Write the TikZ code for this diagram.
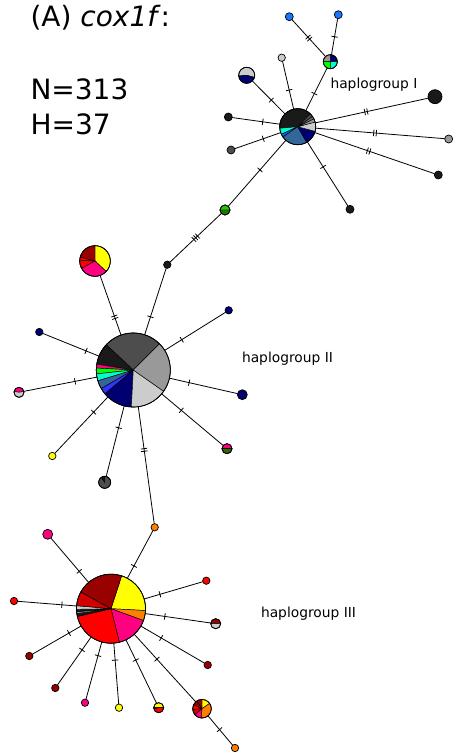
\documentclass[tikz,border=0pt]{standalone}
\usepackage{fontspec}
\setmainfont{DejaVu Sans}
\usetikzlibrary{decorations.markings}

% haplotype colours
\definecolor{hnavy}{RGB}{0,0,112}
\definecolor{hsteel}{RGB}{51,102,153}
\definecolor{hblue}{RGB}{51,51,255}
\definecolor{hblueI}{RGB}{0,102,255}
\definecolor{htopblue}{RGB}{26,117,255}
\definecolor{hcyan}{RGB}{0,255,204}
\definecolor{hgreen}{RGB}{0,255,0}
\definecolor{hgrnA}{RGB}{40,200,0}
\definecolor{hgrnB}{RGB}{30,120,0}
\definecolor{hdkgreen}{RGB}{51,102,0}
\definecolor{hmag}{RGB}{255,0,128}
\definecolor{hred}{RGB}{255,0,0}
\definecolor{hmred}{RGB}{210,0,0}
\definecolor{hdred}{RGB}{153,0,0}
\definecolor{hyel}{RGB}{255,255,0}
\definecolor{horange}{RGB}{255,128,0}
\definecolor{hblk}{RGB}{26,26,26}
\definecolor{hdg}{RGB}{77,77,77}
\definecolor{hmg}{RGB}{110,110,110}
\definecolor{hg}{RGB}{153,153,153}
\definecolor{hlg}{RGB}{204,204,204}

\tikzset{
  hap/.style={circle, draw=black, line width=0.7pt, inner sep=0pt, outer sep=0pt},
  link/.style={line width=0.8pt, black},
  tickmark/.style={line width=0.8pt},
  hashone/.style={postaction={decorate, decoration={markings,
      mark=at position #1 with {\draw[tickmark] (0pt,-3.2pt) -- (0pt,3.2pt);}}}},
  hashtwo/.style={postaction={decorate, decoration={markings,
      mark=at position #1 with {\draw[tickmark] (-1.3pt,-3.2pt) -- (-1.3pt,3.2pt)
                                  (1.3pt,-3.2pt) -- (1.3pt,3.2pt);}}}},
  hashthree/.style={postaction={decorate, decoration={markings,
      mark=at position #1 with {\draw[tickmark] (-2.5pt,-3.2pt) -- (-2.5pt,3.2pt)
                                  (0pt,-3.2pt) -- (0pt,3.2pt)
                                  (2.5pt,-3.2pt) -- (2.5pt,3.2pt);}}}},
  grouplabel/.style={anchor=base west, font=\fontsize{13.8}{16}\selectfont},
  biglabel/.style={anchor=base west, font=\fontsize{28}{33}\selectfont}
}

% one haplotype circle: name, x, y, radius, fill
\newcommand{\hapnode}[5]{\node[hap, fill=#5, minimum size={2*#4pt}] (#1) at (#2,#3) {};}
% one slice of a pie: centre node, radius, start angle, end angle, fill
\newcommand{\wedgepart}[5]{\filldraw[fill=#5, draw=black, line width=0.45pt]
  (#1.center) -- ++(#3:#2pt) arc[start angle=#3, end angle=#4, radius=#2pt] -- cycle;}
% outline of a pie
\newcommand{\pierim}[2]{\draw[line width=0.7pt] (#1.center) circle[radius=#2pt];}

\begin{document}
\begin{tikzpicture}[x=1pt, y=-1pt]
\useasboundingbox (0,0) rectangle (452,754);

% ---------- labels ----------
\node[biglabel] (title) at (27,27) {(A) \textit{cox1f}:};
\node[biglabel] (nlab) at (27,100) {N=313};
\node[biglabel] (hlab) at (27,135) {H=37};
\node[grouplabel] (gI) at (327,88.5) {haplogroup I};
\node[grouplabel] (gII) at (238.5,362) {haplogroup II};
\node[grouplabel] (gIII) at (257.5,617) {haplogroup III};

% ---------- haplogroup I ----------
\hapnode{cI}{297.7}{126.7}{18}{white}
\hapnode{blueTL}{289.3}{16.7}{4}{htopblue}
\hapnode{blueTR}{338.3}{14.7}{4}{htopblue}
\hapnode{pieQ}{330.3}{61.7}{7}{white}
\hapnode{lgS}{281.7}{57.7}{3.7}{hlg}
\hapnode{lgN}{246.7}{75.3}{8}{white}
\hapnode{blackL}{228.3}{117}{4}{hblk}
\hapnode{dgL}{231}{150}{4}{hdg}
\hapnode{greenN}{225}{210}{5}{white}
\hapnode{blackB}{350}{209.3}{4}{hblk}
\hapnode{blackRB}{438.3}{175}{4}{hblk}
\hapnode{grayR}{448.7}{139}{4}{hg}
\hapnode{bigBlack}{435}{96.7}{7}{hblk}

% ---------- haplogroup II ----------
\hapnode{cII}{133.3}{370}{37}{white}
\hapnode{pieTop}{95}{261}{15.3}{white}
\hapnode{blackTop}{167.3}{264.7}{3.7}{hblk}
\hapnode{navyTR}{228.7}{310.3}{3.7}{hnavy}
\hapnode{navyL}{39.3}{332}{3.7}{hnavy}
\hapnode{mgL}{19}{392.3}{5}{white}
\hapnode{navyR}{242.3}{394.7}{5}{hnavy}
\hapnode{mgDG}{227}{448.7}{5}{white}
\hapnode{yellowL}{52.3}{456}{3.7}{hyel}
\hapnode{dgPie}{104.7}{482.3}{6}{white}

% ---------- haplogroup III ----------
\hapnode{orangeTop}{154.7}{527.3}{3.7}{horange}
\hapnode{cIII}{111}{608.7}{34.5}{white}
\hapnode{mgTL}{47.7}{534.3}{5}{hmag}
\hapnode{redRT}{206.3}{580.7}{3.7}{hred}
\hapnode{redL}{14}{601}{3.7}{hred}
\hapnode{dlgR}{215.7}{623.7}{5}{white}
\hapnode{drR}{207.7}{665}{3.7}{hdred}
\hapnode{drL}{29.3}{656}{3.7}{hdred}
\hapnode{drLL}{55.3}{688}{3.7}{hdred}
\hapnode{mgB}{85}{702.7}{3.7}{hmag}
\hapnode{yellowB}{119}{707.7}{3.7}{hyel}
\hapnode{yrB}{158.7}{707.7}{5}{white}
\hapnode{multi}{202}{708.7}{9.3}{white}
\hapnode{orangeB}{235}{748}{3.7}{horange}

% ---------- connectors ----------
\draw[link, hashtwo=0.5] (pieQ) -- (blueTL);
\draw[link, hashone=0.5] (pieQ) -- (blueTR);
\draw[link, hashone=0.4] (cI) -- (pieQ);
\draw[link, hashone=0.4] (cI) -- (lgS);
\draw[link, hashone=0.42] (cI) -- (lgN);
\draw[link, hashone=0.36] (cI) -- (blackL);
\draw[link, hashone=0.38] (cI) -- (dgL);
\draw[link, hashone=0.45] (cI) -- (greenN);
\draw[link, hashone=0.39] (cI) -- (blackB);
\draw[link, hashtwo=0.45] (cI) -- (blackRB);
\draw[link, hashtwo=0.46] (cI) -- (grayR);
\draw[link, hashtwo=0.45] (cI) -- (bigBlack);

\draw[link, hashthree=0.5] (greenN) -- (blackTop);

\draw[link, hashtwo=0.3] (cII) -- (pieTop);
\draw[link, hashone=0.27] (cII) -- (blackTop);
\draw[link, hashone=0.28] (cII) -- (navyTR);
\draw[link, hashone=0.23] (cII) -- (navyL);
\draw[link, hashone=0.3] (cII) -- (mgL);
\draw[link, hashone=0.29] (cII) -- (navyR);
\draw[link, hashone=0.32] (cII) -- (mgDG);
\draw[link, hashone=0.27] (cII) -- (yellowL);
\draw[link, hashone=0.31] (cII) -- (dgPie);
\draw[link, hashtwo=0.37] (cII) -- (orangeTop);

\draw[link, hashone=0.26] (cIII) -- (orangeTop);
\draw[link, hashone=0.25] (cIII) -- (mgTL);
\draw[link, hashone=0.27] (cIII) -- (redRT);
\draw[link, hashone=0.25] (cIII) -- (redL);
\draw[link, hashone=0.3] (cIII) -- (dlgR);
\draw[link, hashone=0.32] (cIII) -- (drR);
\draw[link, hashone=0.25] (cIII) -- (drL);
\draw[link, hashone=0.27] (cIII) -- (drLL);
\draw[link, hashone=0.24] (cIII) -- (mgB);
\draw[link, hashone=0.28] (cIII) -- (yellowB);
\draw[link, hashone=0.32] (cIII) -- (yrB);
\draw[link, hashone=0.37] (cIII) -- (multi);
\draw[link, hashone=0.47] (multi) -- (orangeB);

% ---------- pies, haplogroup I ----------
\wedgepart{cI}{18}{45}{185}{hblk}
\wedgepart{cI}{18}{185}{205}{hcyan}
\wedgepart{cI}{18}{205}{215}{hblueI}
\wedgepart{cI}{18}{215}{300}{hsteel}
\wedgepart{cI}{18}{300}{345}{hnavy}
\wedgepart{cI}{18}{345}{375}{hlg}
\wedgepart{cI}{18}{375}{386}{hg}
\wedgepart{cI}{18}{386}{395}{hmg}
\wedgepart{cI}{18}{395}{405}{hdg}
\pierim{cI}{18}

\wedgepart{pieQ}{7}{0}{90}{hnavy}
\wedgepart{pieQ}{7}{90}{180}{hg}
\wedgepart{pieQ}{7}{180}{270}{hgreen}
\wedgepart{pieQ}{7}{270}{360}{hcyan}
\pierim{pieQ}{7}

\wedgepart{lgN}{8}{-15}{185}{hlg}
\wedgepart{lgN}{8}{185}{345}{hnavy}
\pierim{lgN}{8}

\wedgepart{greenN}{5}{0}{180}{hgrnA}
\wedgepart{greenN}{5}{180}{360}{hgrnB}
\pierim{greenN}{5}

% ---------- pies, haplogroup II ----------
\wedgepart{cII}{37}{45}{137}{hdg}
\wedgepart{cII}{37}{137}{171}{hblk}
\wedgepart{cII}{37}{171}{177}{hmag}
\wedgepart{cII}{37}{177}{186}{hgreen}
\wedgepart{cII}{37}{186}{197}{hcyan}
\wedgepart{cII}{37}{197}{210}{hsteel}
\wedgepart{cII}{37}{210}{220}{hblue}
\wedgepart{cII}{37}{220}{267}{hnavy}
\wedgepart{cII}{37}{267}{325}{hlg}
\wedgepart{cII}{37}{325}{405}{hg}
\pierim{cII}{37}

\wedgepart{pieTop}{15.3}{-43}{90}{hyel}
\wedgepart{pieTop}{15.3}{90}{166}{hdred}
\wedgepart{pieTop}{15.3}{166}{178}{hred}
\wedgepart{pieTop}{15.3}{178}{209}{hred}
\wedgepart{pieTop}{15.3}{209}{317}{hmag}
\pierim{pieTop}{15.3}

\wedgepart{mgL}{5}{10}{170}{hmag}
\wedgepart{mgL}{5}{170}{370}{hlg}
\pierim{mgL}{5}

\wedgepart{mgDG}{5}{0}{180}{hmag}
\wedgepart{mgDG}{5}{180}{360}{hdkgreen}
\pierim{mgDG}{5}

\wedgepart{dgPie}{6}{125}{455}{hdg}
\wedgepart{dgPie}{6}{95}{125}{hblk}
\pierim{dgPie}{6}

% ---------- pies, haplogroup III ----------
\wedgepart{cIII}{34.5}{-3}{72}{hyel}
\wedgepart{cIII}{34.5}{-20}{-3}{horange}
\wedgepart{cIII}{34.5}{-76}{-20}{hmag}
\wedgepart{cIII}{34.5}{193}{284}{hred}
\wedgepart{cIII}{34.5}{188}{193}{hblk}
\wedgepart{cIII}{34.5}{185}{188}{hg}
\wedgepart{cIII}{34.5}{181}{185}{hblk}
\wedgepart{cIII}{34.5}{175}{181}{hlg}
\wedgepart{cIII}{34.5}{151}{175}{hmred}
\wedgepart{cIII}{34.5}{72}{151}{hdred}
\pierim{cIII}{34.5}

\wedgepart{dlgR}{5}{0}{180}{hdred}
\wedgepart{dlgR}{5}{180}{360}{hlg}
\pierim{dlgR}{5}

\wedgepart{yrB}{5}{0}{180}{hyel}
\wedgepart{yrB}{5}{180}{195}{hblk}
\wedgepart{yrB}{5}{195}{360}{hred}
\pierim{yrB}{5}

\wedgepart{multi}{9.3}{35}{90}{hyel}
\wedgepart{multi}{9.3}{90}{125}{hdred}
\wedgepart{multi}{9.3}{125}{155}{hdred}
\wedgepart{multi}{9.3}{155}{185}{hred}
\wedgepart{multi}{9.3}{185}{220}{hmred}
\wedgepart{multi}{9.3}{220}{265}{hmag}
\wedgepart{multi}{9.3}{265}{395}{horange}
\pierim{multi}{9.3}

\end{tikzpicture}
\end{document}
